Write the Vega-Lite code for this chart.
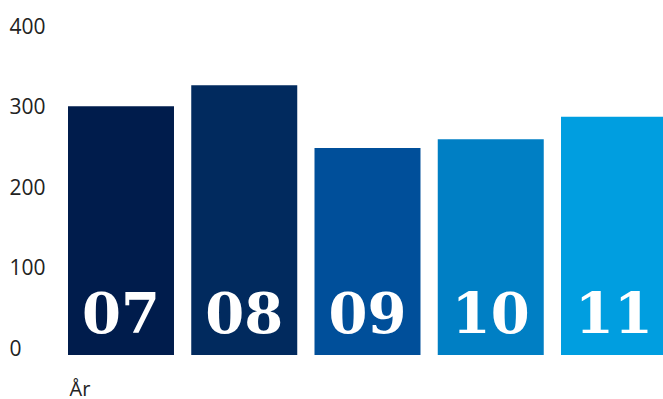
{
  "$schema": "https://vega.github.io/schema/vega-lite/v6.json",
  "autosize": {"type": "none"},
  "padding": {"left": 68, "top": 33, "right": 0, "bottom": 44},
  "width": 599,
  "height": 322,
  "background": "white",
  "data": {"values": [
    {"year": "07", "value": 309, "color": "#001c4c"},
    {"year": "08", "value": 335, "color": "#012a5e"},
    {"year": "09", "value": 257, "color": "#004f9a"},
    {"year": "10", "value": 268, "color": "#007fc4"},
    {"year": "11", "value": 296, "color": "#009ee0"}
  ]},
  "config": {"view": {"stroke": null}},
  "encoding": {
    "x": {"field": "year", "type": "nominal", "sort": null,
      "scale": {"paddingInner": 0.14, "paddingOuter": 0},
      "axis": {"title": "År", "labels": false, "ticks": false, "domain": false,
        "titleAnchor": "start", "titleAlign": "left", "titleBaseline": "alphabetic",
        "titleY": 40, "titleX": 1, "titleFont": "Open Sans", "titleFontSize": 20,
        "titleFontWeight": "normal", "titleColor": "#222"}}
  },
  "layer": [
    {"mark": {"type": "bar", "clip": false},
     "encoding": {
       "y": {"field": "value", "type": "quantitative",
         "scale": {"domain": [0, 400], "nice": false},
         "axis": {"values": [0, 100, 200, 300, 400], "title": null, "grid": false,
           "domain": false, "ticks": false, "tickSize": 0, "labelAlign": "left",
           "labelBaseline": "alphabetic", "labelPadding": 59, "labelFont": "Open Sans",
           "labelFontSize": 21, "labelColor": "#222"}},
       "color": {"field": "color", "type": "nominal", "scale": null}
     }},
    {"mark": {"type": "text", "font": "DejaVu Serif", "fontWeight": "bold", "fontSize": 56,
      "color": "white", "baseline": "alphabetic", "align": "center", "dy": -22},
     "encoding": {"y": {"datum": 0, "type": "quantitative"}, "text": {"field": "year"}}}
  ]
}
